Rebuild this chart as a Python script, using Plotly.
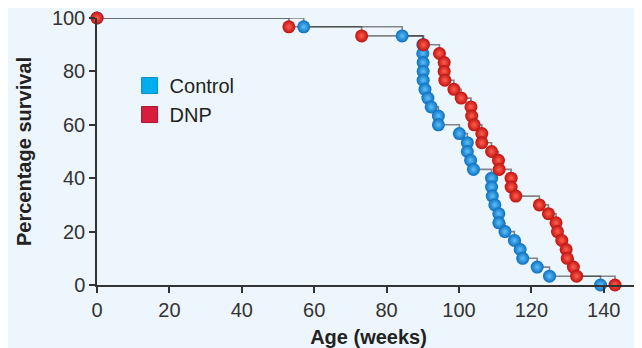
import plotly.graph_objects as go

# Kaplan-Meier survival data
control_weeks = [0, 57.1, 84.3, 90.0, 90.0, 90.1, 90.1, 90.1, 90.6, 91.4, 92.3, 94.3, 94.3,
                 100.1, 102.3, 102.3, 103.2, 104.0, 109.0, 109.0, 109.2, 109.9, 111.0, 111.0,
                 112.7, 115.3, 116.9, 117.6, 121.6, 125.0, 139.1]
control_survival = [100, 96.7, 93.3, 90.0, 86.7, 83.3, 80.0, 76.7, 73.3, 70.0, 66.7, 63.3, 60.0,
                    56.7, 53.3, 50.0, 46.7, 43.3, 40.0, 36.7, 33.3, 30.0, 26.7, 23.3,
                    20.0, 16.7, 13.3, 10.0, 6.7, 3.3, 0]

dnp_weeks = [0, 53.0, 73.1, 90.2, 94.6, 95.9, 95.9, 96.1, 98.6, 100.6, 103.3, 103.5, 104.2,
             106.3, 106.3, 109.0, 110.9, 111.1, 114.4, 114.4, 115.7, 122.2, 124.7, 126.8,
             127.2, 128.4, 129.6, 129.9, 131.6, 132.5, 143.1]
dnp_survival = [100, 96.7, 93.3, 90.0, 86.7, 83.3, 80.0, 76.7, 73.3, 70.0, 66.7, 63.3, 60.0,
                56.7, 53.3, 50.0, 46.7, 43.3, 40.0, 36.7, 33.3, 30.0, 26.7, 23.3,
                20.0, 16.7, 13.3, 10.0, 6.7, 3.3, 0]

series_names = ["Control", "DNP"]
x_ticks = [0, 20, 40, 60, 80, 100, 120, 140]
y_ticks = [0, 20, 40, 60, 80, 100]

BG = "#eef6fd"
FONT = "Liberation Sans, Arial, sans-serif"
AX = "#333333"
LINE = "rgba(40,40,40,0.55)"

fig = go.Figure()

# step lines
for xs, ys in [(control_weeks, control_survival), (dnp_weeks, dnp_survival)]:
    fig.add_trace(go.Scatter(x=xs, y=ys, mode="lines", line=dict(shape="hv", color=LINE, width=1.6),
                             showlegend=False, hoverinfo="skip", cliponaxis=False))

# markers (balls)
fig.add_trace(go.Scatter(x=control_weeks, y=control_survival, mode="markers", showlegend=False,
                         cliponaxis=False,
                         marker=dict(size=13, color="#0b6fc2",
                                     gradient=dict(type="radial", color="#5cc0f6"),
                                     line=dict(width=0))))
fig.add_trace(go.Scatter(x=dnp_weeks, y=dnp_survival, mode="markers", showlegend=False,
                         cliponaxis=False,
                         marker=dict(size=13, color="#c0110f",
                                     gradient=dict(type="radial", color="#ff6050"),
                                     line=dict(width=0))))

# legend entries
for name, col, edge in [(series_names[0], "#00aeef", "#0a8cc8"), (series_names[1], "#d81e3c", "#a8142c")]:
    fig.add_trace(go.Scatter(x=[None], y=[None], mode="markers", name=name,
                             marker=dict(symbol="square", size=16, color=col, line=dict(width=1, color=edge))))

fig.update_layout(
    width=634, height=340,
    margin=dict(l=89, r=2, t=10, b=63),
    paper_bgcolor=BG, plot_bgcolor=BG,
    font=dict(family=FONT, size=20, color=AX),
    legend=dict(x=0.06, y=0.82, xanchor="left", yanchor="top", bgcolor="rgba(0,0,0,0)",
                font=dict(size=20, color="#222222"), tracegroupgap=0, itemsizing="trace"),
    xaxis=dict(range=[0, 150], tickvals=x_ticks, ticks="outside", ticklen=6, tickwidth=1.5,
               tickcolor=AX, showline=True, linecolor=AX, linewidth=1.5, showgrid=False,
               zeroline=False, automargin=False, ticklabeloverflow="allow",
               title=dict(text="<b>Age (weeks)</b>", font=dict(size=20, color="#222222"), standoff=10)),
    yaxis=dict(range=[0, 100], tickvals=y_ticks, ticks="outside", ticklen=6, tickwidth=1.5,
               tickcolor=AX, showline=True, linecolor=AX, linewidth=1.5, showgrid=False,
               zeroline=False, automargin=False, ticklabeloverflow="allow",
               title=dict(text="<b>Percentage survival</b>", font=dict(size=20, color="#222222"), standoff=15)),
)

fig.write_html("out.html")
